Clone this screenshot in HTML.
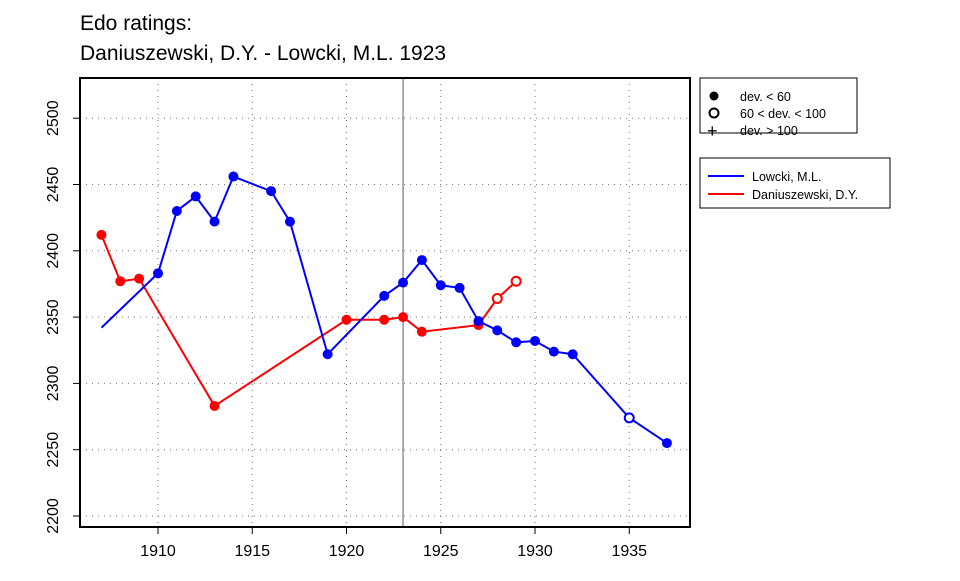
<!DOCTYPE html>
<html><head><meta charset="utf-8"><style>
body{margin:0;background:#fff;}
text{font-family:"Liberation Sans",Arial,sans-serif;}
</style></head><body>
<svg id="chart" width="960" height="576" xmlns="http://www.w3.org/2000/svg">
<text x="80" y="30" font-size="21">Edo ratings:</text>
<text x="80" y="60" font-size="21">Daniuszewski, D.Y. - Lowcki, M.L. 1923</text>
<g id="grid"></g>
<g id="marks"></g>
<rect x="80" y="78" width="610" height="449" fill="none" stroke="#000" stroke-width="2"/>
<g id="axes"></g>
<g>
<rect x="700" y="78" width="157" height="55" fill="#fff" stroke="#000"/>
<circle cx="714" cy="96" r="4.5" fill="#000"/><text x="740" y="101" font-size="12.5">dev. &lt; 60</text>
<circle cx="714" cy="113" r="4.5" fill="none" stroke="#000" stroke-width="2"/><text x="740" y="118" font-size="12.5">60 &lt; dev. &lt; 100</text>
<text x="707" y="137" font-size="18">+</text><text x="740" y="135" font-size="12.5">dev. &gt; 100</text>
</g>
<g>
<rect x="700" y="158" width="190" height="50" fill="#fff" stroke="#000"/>
<line x1="708" y1="176" x2="744" y2="176" stroke="#00f" stroke-width="2"/><text x="752" y="181" font-size="12.5">Lowcki, M.L.</text>
<line x1="708" y1="194" x2="744" y2="194" stroke="#f00" stroke-width="2"/><text x="752" y="199" font-size="12.5">Daniuszewski, D.Y.</text>
</g>
</svg>
<script>
const xTicks=[1910,1915,1920,1925,1930,1935];
const yTicks=[2200,2250,2300,2350,2400,2450,2500];
const blueYears=[1907,1910,1911,1912,1913,1914,1916,1917,1919,1922,1923,1924,1925,1926,1927,1928,1929,1930,1931,1932,1935,1937];
const blueRatings=[2342,2383,2430,2441,2422,2456,2445,2422,2322,2366,2376,2393,2374,2372,2347,2340,2331,2332,2324,2322,2274,2255];
const blueType=[0,1,1,1,1,1,1,1,1,1,1,1,1,1,1,1,1,1,1,1,2,1];
const redYears=[1907,1908,1909,1913,1920,1922,1923,1924,1927,1928,1929];
const redRatings=[2412,2377,2379,2283,2348,2348,2350,2339,2344,2364,2377];
const redType=[1,1,1,1,1,1,1,1,1,2,2];
const markYear=1923;
const NS="http://www.w3.org/2000/svg";
function X(v){return 158+(v-1910)*18.85;}
function Y(v){return 516-(v-2200)*1.326;}
function mk(tag,attrs,parent){const e=document.createElementNS(NS,tag);for(const k in attrs)e.setAttribute(k,attrs[k]);parent.appendChild(e);return e;}
const grid=document.getElementById('grid'),axes=document.getElementById('axes'),marks=document.getElementById('marks');
xTicks.forEach(t=>{
 const g=mk('line',{x1:X(t),x2:X(t),y1:78,y2:527,stroke:'#777','stroke-dasharray':'1,5'},grid);
 
 
 const tk=mk('line',{x1:X(t),x2:X(t),y1:527,y2:534,stroke:'#000'},axes);
 
 
 const tx=mk('text',{x:X(t),y:556,'font-size':16,'text-anchor':'middle'},axes);tx.textContent=t;
 
 
});
yTicks.forEach(t=>{
 const g=mk('line',{x1:80,x2:690,y1:Y(t),y2:Y(t),stroke:'#777','stroke-dasharray':'1,5'},grid);
 
 
 const tk=mk('line',{x1:73,x2:80,y1:Y(t),y2:Y(t),stroke:'#000'},axes);
 
 
 const tx=mk('text',{x:0,y:0,'font-size':16,'text-anchor':'middle',transform:`translate(58,${Y(t)}) rotate(-90)`},axes);tx.textContent=t;
 
 
});
const vl=mk('line',{x1:X(markYear),x2:X(markYear),y1:78,y2:527,stroke:'#777','stroke-width':1.2},marks);


function series(years,vals,types,color,name){
 const pl=mk('polyline',{points:years.map((y,i)=>X(y)+','+Y(vals[i])).join(' '),fill:'none',stroke:color,'stroke-width':2},marks);
 
 
 years.forEach((y,i)=>{
  if(types[i]===0)return;
  const c=types[i]===1?mk('circle',{cx:X(y),cy:Y(vals[i]),r:5,fill:color},marks):mk('circle',{cx:X(y),cy:Y(vals[i]),r:4.5,fill:'#fff',stroke:color,'stroke-width':2},marks);
  
  
 });
}
series(redYears,redRatings,redType,'#f00','daniuszewski');
series(blueYears,blueRatings,blueType,'#00f','lowcki');
</script>
</body></html>
